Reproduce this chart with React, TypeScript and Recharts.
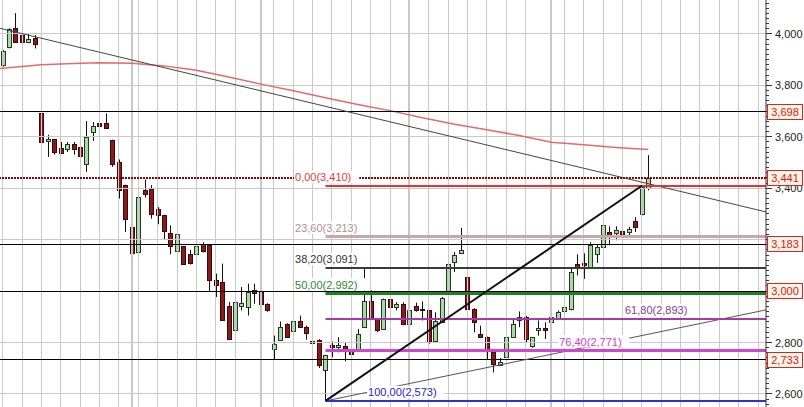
import React from 'react';
import { ComposedChart, Bar, Line, XAxis, YAxis, ReferenceLine, ReferenceDot } from 'recharts';

// ---- data ----
const candleOpen = [
  3879, 3948, 4022, 3996, 3970, 3983, 3691, 3582, 3590, 3556,
  3551, 3574, 3559, 3496, 3617, 3654, 3654, 3587, 3503, 3412,
  3250, 3153, 3392, 3399, 3321, 3295, 3227, 3155, 3174, 3146,
  3146, 3185, 3180, 3042, 3035, 2944, 2847, 2944, 2938, 3006,
  2996, 2951, 2775, 2811, 2873, 2844, 2883, 2862, 2808, 2811,
  2694, 2791, 2782, 2788, 2769, 2775, 2860, 2961, 2892, 2853,
  2971, 2938, 2951, 2873, 2944, 2932, 2925, 2808, 2879, 2996,
  3113, 3150, 3055, 2932, 2834, 2821, 2762, 2714, 2743, 2821,
  2888, 2901, 2788, 2847, 2857, 2879, 2896, 2922, 2932, 3107,
  3110, 3094, 3146, 3171, 3230, 3226, 3233, 3230, 3273, 3299, 3403,
];
const candleHigh = [
  3937, 4022, 4081, 4003, 4003, 3996, 3697, 3608, 3592, 3580,
  3580, 3580, 3580, 3661, 3658, 3662, 3691, 3589, 3512, 3414,
  3269, 3386, 3434, 3412, 3327, 3297, 3256, 3256, 3176, 3161,
  3178, 3190, 3182, 3068, 3107, 2957, 2960, 3016, 3029, 3029,
  3029, 2953, 2827, 2882, 2875, 2885, 2905, 2866, 2827, 2813,
  2752, 2804, 2821, 2801, 2801, 2853, 3088, 3003, 2894, 2971,
  2990, 2957, 2957, 2932, 2955, 2960, 2927, 2918, 2977, 3107,
  3152, 3246, 3058, 2934, 2866, 2823, 2764, 2740, 2821, 2892,
  2921, 2903, 2821, 2886, 2879, 2912, 2925, 2950, 3087, 3143,
  3147, 3190, 3182, 3260, 3252, 3252, 3245, 3250, 3288, 3410, 3529,
];
const candleLow = [
  3873, 3944, 3968, 3954, 3964, 3944, 3522, 3522, 3531, 3535,
  3541, 3531, 3522, 3464, 3584, 3626, 3633, 3483, 3360, 3230,
  3150, 3120, 3364, 3282, 3260, 3200, 3143, 3152, 3105, 3103,
  3120, 3150, 2996, 2977, 2886, 2814, 2847, 2925, 2905, 2951,
  2951, 2920, 2736, 2811, 2821, 2844, 2857, 2811, 2775, 2701,
  2573, 2743, 2762, 2727, 2749, 2775, 2860, 2892, 2840, 2853,
  2932, 2925, 2873, 2866, 2920, 2886, 2795, 2801, 2879, 2996,
  3074, 3147, 2853, 2840, 2821, 2736, 2684, 2710, 2740, 2821,
  2860, 2801, 2780, 2827, 2814, 2860, 2890, 2918, 2925, 3061,
  3048, 3094, 3110, 3171, 3178, 3198, 3210, 3215, 3230, 3295, 3392,
];
const candleClose = [
  3935, 4018, 3970, 3970, 3979, 3960, 3580, 3590, 3541, 3538,
  3571, 3551, 3525, 3598, 3642, 3643, 3633, 3496, 3392, 3282,
  3150, 3366, 3379, 3301, 3295, 3233, 3174, 3223, 3107, 3110,
  3174, 3158, 3042, 3022, 2886, 2814, 2957, 2953, 2996, 2992,
  2951, 2925, 2795, 2862, 2821, 2883, 2860, 2836, 2800, 2714,
  2752, 2782, 2791, 2771, 2756, 2834, 2961, 2892, 2850, 2971,
  2938, 2951, 2873, 2925, 2925, 2925, 2808, 2883, 2975, 3107,
  3142, 3161, 2932, 2879, 2823, 2775, 2717, 2724, 2821, 2873,
  2901, 2814, 2821, 2857, 2847, 2901, 2918, 2938, 3074, 3094,
  3100, 3178, 3171, 3256, 3217, 3236, 3221, 3243, 3250, 3405, 3441,
];

// moving average, read at some positions along the curve
const maIndex = [-0.418, 6, 12, 15, 20, 25, 30, 35, 40, 45, 50, 55, 60, 65, 70, 75, 80, 85, 90, 95, 100];
const maValues = [3866, 3880, 3886, 3888, 3886, 3876, 3859, 3833, 3805, 3779, 3752, 3726, 3702, 3674, 3649, 3628, 3605, 3579, 3569, 3559, 3551];

const yTickLabels = [2600, 2800, 3000, 3200, 3400, 3600, 3800, 4000];
const levelValues = [3698, 3183, 3000, 2733];
const lastPrice = 3441;

const fibPercents = ['0,00', '23,60', '38,20', '50,00', '61,80', '76,40', '100,00'];
const fibValues = [3410, 3213, 3091, 2992, 2893, 2771, 2573];
const fibLowIndex = 50;
const fibHighIndex = 99;

const trendDownIdx = [-0.418, 118.23];
const trendDownVal = [4022, 3308];
const trendUpIdx = [50, 118.23];
const trendUpVal = [2573, 2927];

const gridIdx = [0, 3, 6, 9, 12, 15, 18, 21, 24, 27, 30, 33, 36, 42, 45, 48, 51, 54, 57, 60, 66, 69, 72, 75, 78, 81, 87, 90, 93, 96, 99, 102, 105, 108, 111, 114, 117];
const monthIdx = [20, 40, 63, 85];

// ---- layout / style ----
const W = 804;
const H = 407;
const X_MIN = -0.418;
const X_MAX = 118.23;
const Y_MIN = 2549.4;
const Y_MAX = 4132.2;
const FONT = '"Liberation Sans", Arial, sans-serif';
const GRID = '#c9c9c9';

const fibStyle = [
  { stroke: '#e83030', width: 2, text: '#e63a3a', labelAt: 45.28 },
  { stroke: '#c9a7a7', width: 3, text: '#b48e8e', labelAt: 45.28 },
  { stroke: '#3a3a3a', width: 2, text: '#333333', labelAt: 45.28 },
  { stroke: '#1f801f', width: 3, text: '#2e8b2e', labelAt: 45.28 },
  { stroke: '#a43ca8', width: 2, text: '#8b3a8b', labelAt: 96.39 },
  { stroke: '#d244d2', width: 3, text: '#d040d0', labelAt: 86.2 },
  { stroke: '#3030d0', width: 2, text: '#2525c0', labelAt: 56.6 },
];

const yMinorTicks = Array.from({ length: 79 }, (_, k) => 2560 + 20 * k);

const fmt = (v: number) => v.toLocaleString('en-US');

const data = candleOpen.map((o, i) => ({
  i,
  open: o,
  high: candleHigh[i],
  low: candleLow[i],
  close: candleClose[i],
}));
const maData = maIndex.map((i, k) => ({ i, ma: maValues[k] }));

const snap = (v: number, w: number) => (Math.round(w) % 2 === 1 ? Math.floor(v) + 0.5 : Math.round(v));

const crisp = (stroke: string, width: number, dash?: string) => (p: any) => {
  const { x1, y1, x2, y2 } = p;
  if (x1 == null) return null;
  const horiz = Math.abs(y1 - y2) < 0.01;
  const vert = Math.abs(x1 - x2) < 0.01;
  const ax1 = vert ? snap(x1, width) : x1;
  const ax2 = vert ? snap(x2, width) : x2;
  const ay1 = horiz ? snap(y1, width) : y1;
  const ay2 = horiz ? snap(y2, width) : y2;
  return <line x1={ax1} y1={ay1} x2={ax2} y2={ay2} stroke={stroke} strokeWidth={width} strokeDasharray={dash} />;
};

const Candle = (props: any) => {
  const { x, y, width, height, payload } = props;
  if (!payload || x == null) return null;
  const { open, close, high, low } = payload;
  const top = Math.min(y, y + height);
  const h = Math.abs(height);
  const ratio = high === low ? 0 : h / (high - low);
  const yOf = (v: number) => top + (high - v) * ratio;
  const up = close >= open;
  const px = Math.round(x + width / 2);
  const bTop = yOf(Math.max(open, close));
  const bBot = yOf(Math.min(open, close));
  return (
    <g>
      <line x1={px + 0.5} x2={px + 0.5} y1={top} y2={top + h} stroke="#111" strokeWidth={1} />
      <rect
        x={px - 1.5}
        y={Math.round(bTop) + 0.5}
        width={4}
        height={Math.max(1, Math.round(bBot) - Math.round(bTop))}
        fill={up ? '#a9d9a0' : '#8b1a1a'}
        stroke={up ? '#243a24' : '#3a0a0a'}
        strokeWidth={1}
      />
    </g>
  );
};

const boxValues = [...levelValues, lastPrice];

const AxisTick = (props: any) => {
  const { cx, cy, value } = props;
  if (cx == null) return null;
  const major = value % 200 === 0;
  const yy = Math.floor(cy) + 0.5;
  const covered = boxValues.some((b) => Math.abs(b - value) < 30);
  return (
    <g>
      <line x1={cx} x2={cx + (major ? 6 : 3)} y1={yy} y2={yy} stroke="#333" strokeWidth={1} />
      {major && !covered ? (
        <text x={cx + 9} y={cy + 4} fontSize={11} fill="#222" fontFamily={FONT}>
          {fmt(value)}
        </text>
      ) : null}
    </g>
  );
};

const PriceBox = (props: any) => {
  const { cx, cy, value } = props;
  if (cx == null) return null;
  const yy = Math.round(cy);
  return (
    <g>
      <rect x={cx + 1.5} y={yy - 7.5} width={35} height={15} fill="#fff3e4" stroke="#cc2a2a" strokeWidth={1} />
      <text x={cx + 19} y={yy + 4} fontSize={11} fill="#cc2222" textAnchor="middle" fontFamily={FONT}>
        {fmt(value)}
      </text>
    </g>
  );
};

const FibText = (props: any) => {
  const { cx, cy, text, color } = props;
  if (cx == null) return null;
  const w = text.length * 5.75;
  return (
    <g>
      <rect x={cx - 1} y={cy - 15} width={w + 2} height={12.5} fill="#ffffff" />
      <text x={cx} y={cy - 4.5} fontSize={11} fill={color} fontFamily={FONT}>
        {text}
      </text>
    </g>
  );
};

export default function App() {
  return (
    <div style={{ position: 'absolute', left: 0, top: 0, width: W, height: H, background: '#fff', fontFamily: FONT }}>
      <ComposedChart width={W} height={H} data={data} margin={{ top: 0, right: 0, bottom: 0, left: 0 }}>
        <XAxis dataKey="i" type="number" domain={[X_MIN, X_MAX]} allowDataOverflow hide />
        <YAxis
          orientation="right"
          type="number"
          width={38}
          domain={[Y_MIN, Y_MAX]}
          allowDataOverflow
          ticks={yTickLabels}
          tick={false}
          tickLine={false}
          axisLine={{ stroke: '#333' }}
        />

        {yTickLabels.map((v) => (
          <ReferenceLine key={'hg' + v} y={v} shape={crisp(GRID, 1)} />
        ))}
        {gridIdx.map((i) => (
          <ReferenceLine key={'vg' + i} x={i} shape={crisp(GRID, 1)} />
        ))}
        {monthIdx.map((i) => (
          <ReferenceLine key={'mg' + i} x={i} shape={crisp('#c8c8c8', 2)} />
        ))}

        <Line
          data={maData}
          dataKey="ma"
          type="linear"
          stroke="#e36a6a"
          strokeWidth={1.5}
          dot={false}
          activeDot={false}
          isAnimationActive={false}
        />

        <Bar dataKey={(d: any) => [d.low, d.high]} barSize={5} isAnimationActive={false} shape={(p: any) => <Candle {...p} />} />

        {levelValues.map((v) => (
          <ReferenceLine key={'lv' + v} y={v} shape={crisp('#000', 1)} />
        ))}
        <ReferenceLine y={lastPrice} shape={crisp('#8b0000', 2, '2 1')} />

        <ReferenceLine
          segment={[
            { x: trendDownIdx[0], y: trendDownVal[0] },
            { x: trendDownIdx[1], y: trendDownVal[1] },
          ]}
          stroke="#444"
          strokeWidth={1}
        />
        <ReferenceLine
          segment={[
            { x: trendUpIdx[0], y: trendUpVal[0] },
            { x: trendUpIdx[1], y: trendUpVal[1] },
          ]}
          stroke="#555"
          strokeWidth={1}
        />

        {fibValues.map((v, k) => (
          <ReferenceLine
            key={'fib' + k}
            segment={[
              { x: fibLowIndex, y: v },
              { x: X_MAX, y: v },
            ]}
            shape={crisp(fibStyle[k].stroke, fibStyle[k].width)}
          />
        ))}
        <ReferenceLine
          segment={[
            { x: fibLowIndex, y: fibValues[6] },
            { x: fibHighIndex, y: fibValues[0] },
          ]}
          stroke="#111"
          strokeWidth={2}
        />

        {fibValues.map((v, k) => (
          <ReferenceDot
            key={'fibl' + k}
            x={fibStyle[k].labelAt}
            y={v}
            r={0}
            ifOverflow="visible"
            shape={(p: any) => (
              <FibText cx={p.cx} cy={p.cy} text={fibPercents[k] + '(' + fmt(v) + ')'} color={fibStyle[k].text} />
            )}
          />
        ))}

        {yMinorTicks.map((v) => (
          <ReferenceDot
            key={'yt' + v}
            x={X_MAX}
            y={v}
            r={0}
            ifOverflow="visible"
            shape={(p: any) => <AxisTick cx={p.cx} cy={p.cy} value={v} />}
          />
        ))}

        {boxValues.map((v) => (
          <ReferenceDot
            key={'pb' + v}
            x={X_MAX}
            y={v}
            r={0}
            ifOverflow="visible"
            shape={(p: any) => <PriceBox cx={p.cx} cy={p.cy} value={v} />}
          />
        ))}
      </ComposedChart>
    </div>
  );
}
